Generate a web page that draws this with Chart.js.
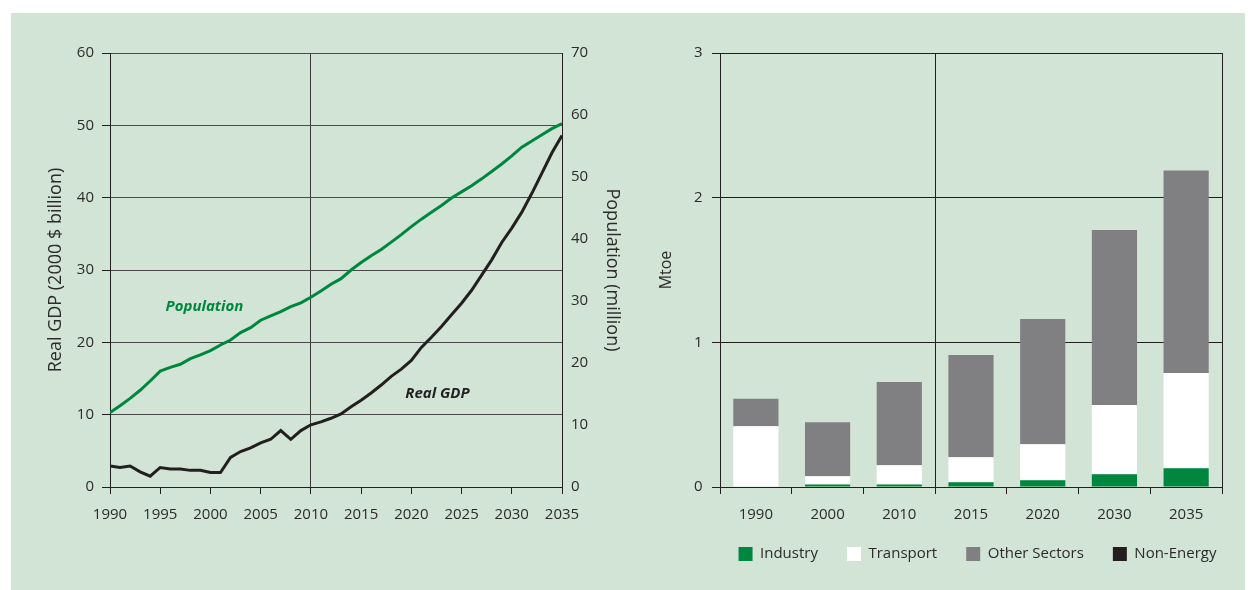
<!DOCTYPE html>
<html>
<head>
<meta charset="utf-8">
<script src="https://cdn.jsdelivr.net/npm/chart.js@4.4.1/dist/chart.umd.min.js"></script>
<style>
  html, body { margin: 0; padding: 0; background: #fff; }
  #wrap { position: relative; width: 1248px; height: 590px; overflow: hidden; }
  #panel { position: absolute; left: 11px; top: 13px; width: 1234px; height: 580px; background: #d2e4d6; }
  #leftChart { position: absolute; left: 0; top: 0; }
  #rightChart { position: absolute; left: 632px; top: 0; }
</style>
</head>
<body>
<div id="wrap">
  <div id="panel"></div>
  <canvas id="leftChart" width="632" height="590"></canvas>
  <canvas id="rightChart" width="630" height="590"></canvas>
</div>
<script>
// Left panel: real GDP and population
const years = [1990, 1991, 1992, 1993, 1994, 1995, 1996, 1997, 1998, 1999,
               2000, 2001, 2002, 2003, 2004, 2005, 2006, 2007, 2008, 2009,
               2010, 2011, 2012, 2013, 2014, 2015, 2016, 2017, 2018, 2019,
               2020, 2021, 2022, 2023, 2024, 2025, 2026, 2027, 2028, 2029,
               2030, 2031, 2032, 2033, 2034, 2035];
const realGdp = [2.9, 2.7, 2.9, 2.1, 1.5, 2.7, 2.5, 2.5, 2.3, 2.3,
                 2.0, 2.0, 4.1, 4.9, 5.4, 6.1, 6.6, 7.8, 6.6, 7.8,
                 8.6, 9.0, 9.5, 10.1, 11.1, 12.0, 13.0, 14.1, 15.3, 16.3,
                 17.5, 19.3, 20.7, 22.2, 23.8, 25.4, 27.2, 29.3, 31.4, 33.8,
                 35.8, 38.0, 40.6, 43.4, 46.2, 48.6];
const population = [12.0, 13.1, 14.3, 15.6, 17.1, 18.7, 19.3, 19.8, 20.7, 21.3,
                    22.0, 22.9, 23.7, 24.9, 25.7, 26.9, 27.6, 28.3, 29.1, 29.7,
                    30.6, 31.6, 32.7, 33.6, 35.0, 36.2, 37.3, 38.3, 39.5, 40.7,
                    42.0, 43.2, 44.3, 45.4, 46.6, 47.6, 48.6, 49.7, 50.9, 52.1,
                    53.4, 54.8, 55.8, 56.8, 57.8, 58.6];

// Right panel: final consumption by sector (Mtoe)
const sectorYears = ['1990', '2000', '2010', '2015', '2020', '2030', '2035'];
const industry = [0, 0.018, 0.018, 0.032, 0.046, 0.088, 0.13];
const transport = [0.42, 0.056, 0.132, 0.174, 0.25, 0.479, 0.658];
const otherSectors = [0.19, 0.374, 0.575, 0.706, 0.866, 1.209, 1.40];
const nonEnergy = [0, 0, 0, 0, 0, 0, 0];

const GREEN = '#00873f';
const DARK = '#231f20';
const GRAY = '#808083';
const TEXT = '#2b2b2b';
const FONT = '"Open Sans", "DejaVu Sans", sans-serif';

// inline labels drawn at data coordinates
const lineLabels = [
    { text: 'Population', x: 1999.4, y: 24.9, color: GREEN },
    { text: 'Real GDP', x: 2022.6, y: 12.9, color: DARK }
];

const lineLabelPlugin = {
    id: 'lineLabels',
    afterDatasetsDraw(chart) {
        const ctx = chart.ctx;
        const xs = chart.scales.x, ys = chart.scales.y;
        ctx.save();
        ctx.font = 'italic bold 15px ' + FONT;
        ctx.textAlign = 'center';
        ctx.textBaseline = 'middle';
        lineLabels.forEach(l => {
            ctx.fillStyle = l.color;
            ctx.fillText(l.text, xs.getPixelForValue(l.x), ys.getPixelForValue(l.y));
        });
        ctx.restore();
    }
};

// the x axis box is kept short so the legend sits high; let its labels overflow the box
const labelRoomPlugin = {
    id: 'labelRoom',
    afterLayout(chart) {
        const xs = chart.scales.x;
        xs.bottom = xs.top + 40;
    }
};

Chart.defaults.font.family = FONT;
Chart.defaults.font.size = 15;
Chart.defaults.color = TEXT;

new Chart(document.getElementById('leftChart'), {
    type: 'line',
    data: {
        datasets: [{
            label: 'Real GDP',
            data: years.map((yr, i) => ({ x: yr, y: realGdp[i] })),
            borderColor: DARK,
            borderWidth: 3,
            pointRadius: 0,
            yAxisID: 'y'
        }, {
            label: 'Population',
            data: years.map((yr, i) => ({ x: yr, y: population[i] })),
            borderColor: GREEN,
            borderWidth: 3,
            pointRadius: 0,
            yAxisID: 'y1'
        }]
    },
    options: {
        responsive: false,
        animation: false,
        layout: { padding: { top: 53, right: 0, bottom: 63, left: 0 } },
        plugins: { legend: { display: false }, tooltip: { enabled: false } },
        scales: {
            x: {
                type: 'linear',
                min: 1990,
                max: 2035,
                ticks: { stepSize: 5, padding: 11.5, callback: v => String(v) },
                grid: {
                    color: c => (c.tick && c.tick.value === 2010) ? '#3a3a3a' : 'rgba(0,0,0,0)',
                    tickColor: DARK,
                    tickLength: 7
                },
                border: { color: DARK },
                afterFit: s => { s.height = 40; }
            },
            y: {
                position: 'left',
                min: 0,
                max: 60,
                ticks: { stepSize: 10, padding: 8 },
                grid: { color: '#4a4a4a', tickColor: DARK, tickLength: 8 },
                border: { color: DARK },
                title: {
                    display: true,
                    text: 'Real GDP (2000 $ billion)',
                    font: { size: 18 },
                    padding: { top: 44.7, bottom: 0 }
                },
                afterFit: s => { s.width = 110; }
            },
            y1: {
                position: 'right',
                min: 0,
                max: 70,
                ticks: { stepSize: 10, padding: 9 },
                grid: { drawOnChartArea: false, drawTicks: false },
                border: { color: DARK },
                title: {
                    display: true,
                    text: 'Population (million)',
                    font: { size: 18 },
                    padding: { top: 9.5, bottom: 0 }
                },
                afterFit: s => { s.width = 70; }
            }
        }
    },
    plugins: [lineLabelPlugin]
});

new Chart(document.getElementById('rightChart'), {
    type: 'bar',
    data: {
        labels: sectorYears,
        datasets: [
            { label: 'Industry', data: industry, backgroundColor: GREEN, borderWidth: 0 },
            { label: 'Transport', data: transport, backgroundColor: '#ffffff', borderWidth: 0 },
            { label: 'Other Sectors', data: otherSectors, backgroundColor: GRAY, borderWidth: 0 },
            { label: 'Non-Energy', data: nonEnergy, backgroundColor: DARK, borderWidth: 0 }
        ]
    },
    options: {
        responsive: false,
        animation: false,
        // legend spans from padding-left to the spare right box, which centres it like the original
        layout: { padding: { top: 53, right: 0, bottom: 18.5, left: 61 } },
        datasets: { bar: { barPercentage: 0.9, categoryPercentage: 0.7 } },
        plugins: {
            tooltip: { enabled: false },
            legend: {
                position: 'bottom',
                labels: {
                    boxWidth: 14,
                    boxHeight: 14,
                    padding: 29,
                    color: TEXT,
                    font: { size: 15 }
                }
            }
        },
        scales: {
            x: {
                stacked: true,
                ticks: { padding: 11.5 },
                grid: {
                    offset: true,
                    color: c => (c.type === 'scale' || c.index === 3) ? DARK : 'rgba(0,0,0,0)',
                    tickColor: DARK,
                    tickLength: 7
                },
                border: { color: DARK },
                afterFit: s => { s.height = 30.5; }
            },
            y: {
                stacked: true,
                min: 0,
                max: 3,
                ticks: { stepSize: 1, padding: 9.3 },
                grid: { color: DARK, tickColor: DARK, tickLength: 8 },
                border: { color: DARK },
                title: {
                    display: true,
                    text: 'Mtoe',
                    font: { size: 16 },
                    padding: { top: -35.9, bottom: 0 }
                },
                afterFit: s => { s.width = 27; }
            },
            // empty spacer on the right
            ySpare: {
                position: 'right',
                min: 0,
                max: 1,
                ticks: { display: false },
                grid: { display: false },
                border: { display: false },
                afterFit: s => { s.width = 40; }
            }
        }
    },
    plugins: [labelRoomPlugin]
});
</script>
</body>
</html>
